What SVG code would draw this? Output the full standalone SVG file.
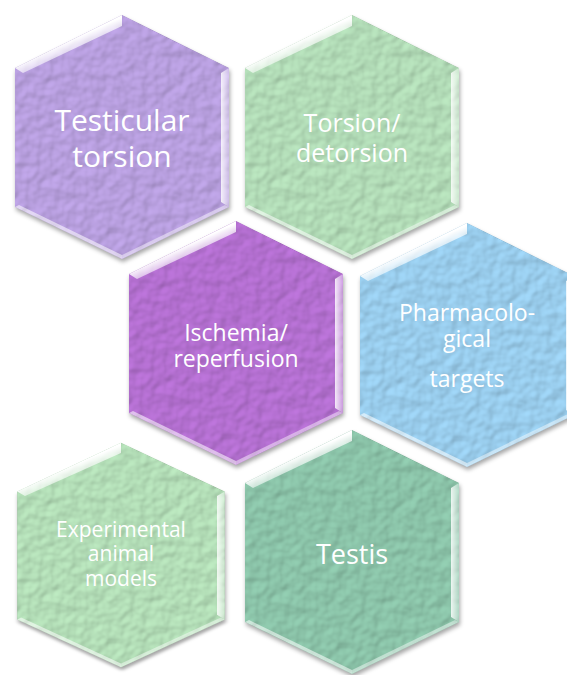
<svg xmlns="http://www.w3.org/2000/svg" xmlns:xlink="http://www.w3.org/1999/xlink" width="567" height="675" viewBox="0 0 567 675">
<style>
.lbl{font-family:"Open Sans","Noto Sans","Liberation Sans",sans-serif;fill:#ffffff;text-anchor:middle}
</style>
<defs>
<polygon id="hx" points="0,-122 107,-69 107,70 0,122 -107,70 -107,-69"/>
<linearGradient id="gTL" gradientUnits="userSpaceOnUse" x1="-53" y1="-96" x2="-49" y2="-87">
<stop offset="0" stop-color="#fff" stop-opacity="1"/>
<stop offset="1" stop-color="#fff" stop-opacity="0.6"/>
</linearGradient>
<linearGradient id="gR" gradientUnits="userSpaceOnUse" x1="99" y1="0" x2="107" y2="0">
<stop offset="0" stop-color="#fff" stop-opacity="0.85"/>
<stop offset="1" stop-color="#fff" stop-opacity="0.3"/>
</linearGradient>
<g id="bev">
<polygon points="-107,-69 0,-122 0,-111 -99,-64" fill="url(#gTL)"/>
<polygon points="107,-69 107,70 99,65 99,-64" fill="url(#gR)"/>
<polygon points="107,70 0,122 0,118 103,68" fill="#fff" opacity="0.45"/>
<polygon points="-107,70 0,122 0,118 -103,68" fill="#fff" opacity="0.55"/>
</g>
<filter id="tex" x="-8%" y="-6%" width="116%" height="114%" color-interpolation-filters="sRGB">
<feTurbulence type="fractalNoise" baseFrequency="0.085" numOctaves="2" seed="7" result="n"/>
<feDiffuseLighting in="n" surfaceScale="2.5" diffuseConstant="1" lighting-color="#fff" result="l">
<feDistantLight azimuth="235" elevation="50"/>
</feDiffuseLighting>
<feComposite in="SourceGraphic" in2="l" operator="arithmetic" k1="0.3" k2="0.76" k3="0" k4="0" result="t"/>
<feGaussianBlur in="SourceAlpha" stdDeviation="2" result="b"/>
<feOffset in="b" dx="1" dy="3" result="o"/>
<feFlood flood-color="#000" flood-opacity="0.35"/>
<feComposite in2="o" operator="in" result="s"/>
<feMerge><feMergeNode in="s"/><feMergeNode in="t"/></feMerge>
</filter>
</defs>
<g id="connectors"/>
<g id="node-testicular-torsion" transform="translate(122,137)">
<use href="#hx" fill="#B9A0E0" filter="url(#tex)"/>
<use href="#bev"/>
<text class="lbl" x="0" y="-6" font-size="30">Testicular</text>
<text class="lbl" x="0" y="30" font-size="30">torsion</text>
</g>
<g id="node-torsion-detorsion" transform="translate(352,137)">
<use href="#hx" fill="#B3DDB8" filter="url(#tex)"/>
<use href="#bev"/>
<text class="lbl" x="0" y="-5" font-size="25">Torsion/</text>
<text class="lbl" x="0" y="25" font-size="25">detorsion</text>
</g>
<g id="node-ischemia-reperfusion" transform="translate(236,343)">
<use href="#hx" fill="#B570D2" filter="url(#tex)"/>
<use href="#bev"/>
<text class="lbl" x="0" y="-2" font-size="23">Ischemia/</text>
<text class="lbl" x="0" y="24" font-size="23">reperfusion</text>
</g>
<g id="node-pharmacological-targets" transform="translate(467,345)">
<use href="#hx" fill="#9ACEEE" filter="url(#tex)"/>
<use href="#bev"/>
<text class="lbl" x="0" y="-24" font-size="23">Pharmacolo-</text>
<text class="lbl" x="0" y="2" font-size="23">gical</text>
<text class="lbl" x="0" y="42" font-size="23">targets</text>
</g>
<g id="node-experimental-animal-models" transform="translate(121,555) scale(0.97,0.92)">
<use href="#hx" fill="#B4DFB8" filter="url(#tex)"/>
<use href="#bev"/>
</g>
<g id="node-experimental-animal-models-label">
<text class="lbl" x="121" y="537" font-size="21">Experimental</text>
<text class="lbl" x="121" y="561" font-size="21">animal</text>
<text class="lbl" x="121" y="586" font-size="21">models</text>
</g>
<g id="node-testis" transform="translate(352,552)">
<use href="#hx" fill="#8CC5AA" filter="url(#tex)"/>
<use href="#bev"/>
<text class="lbl" x="0" y="12" font-size="27">Testis</text>
</g>
</svg>
